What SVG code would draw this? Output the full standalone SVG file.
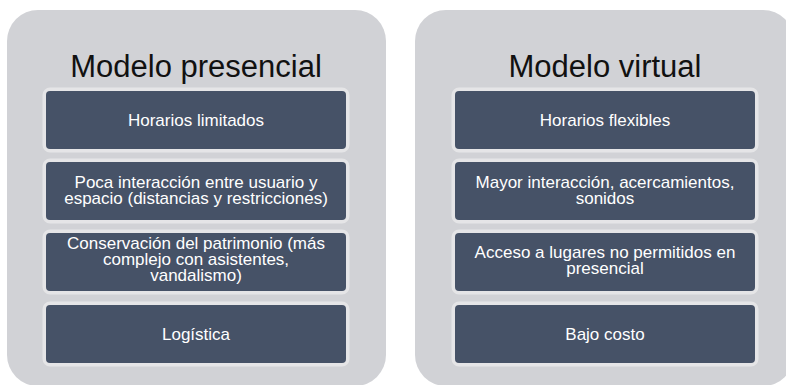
<svg xmlns="http://www.w3.org/2000/svg" width="786" height="385" viewBox="0 0 786 385">
<style>
.panel{fill:#d1d2d6}
.box{fill:#465267;stroke:#e5e5e7;stroke-width:7;paint-order:stroke}
.title{font-family:"Liberation Sans",Arial,sans-serif;font-size:31px;fill:#111;text-anchor:middle}
.lbl{font-family:"Liberation Sans",Arial,sans-serif;font-size:17px;fill:#ffffff;text-anchor:middle}
</style>
<rect width="786" height="385" fill="#ffffff"/>
<g id="panel-presencial">
<rect class="panel" x="7" y="10" width="379" height="376" rx="31"/>
<text class="title" x="196" y="76.5">Modelo presencial</text>
</g>
<g id="panel-virtual">
<rect class="panel" x="415" y="10" width="379" height="376" rx="31"/>
<text class="title" x="605" y="76.5">Modelo virtual</text>
</g>
<g id="p1">
<rect class="box" x="46" y="91" width="300" height="58" rx="4"/>
<text class="lbl" x="196" y="126">Horarios limitados</text>
</g>
<g id="p2">
<rect class="box" x="46" y="162" width="300" height="58" rx="4"/>
<text class="lbl" x="196" y="188">Poca interacción entre usuario y</text>
<text class="lbl" x="196" y="204">espacio (distancias y restricciones)</text>
</g>
<g id="p3">
<rect class="box" x="46" y="233" width="300" height="58" rx="4"/>
<text class="lbl" x="196" y="249">Conservación del patrimonio (más</text>
<text class="lbl" x="196" y="265">complejo con asistentes,</text>
<text class="lbl" x="196" y="281">vandalismo)</text>
</g>
<g id="p4">
<rect class="box" x="46" y="305" width="300" height="58" rx="4"/>
<text class="lbl" x="196" y="339.5">Logística</text>
</g>
<g id="v1">
<rect class="box" x="455" y="91" width="300" height="58" rx="4"/>
<text class="lbl" x="605" y="126">Horarios flexibles</text>
</g>
<g id="v2">
<rect class="box" x="455" y="162" width="300" height="58" rx="4"/>
<text class="lbl" x="605" y="188">Mayor interacción, acercamientos,</text>
<text class="lbl" x="605" y="204">sonidos</text>
</g>
<g id="v3">
<rect class="box" x="455" y="233" width="300" height="58" rx="4"/>
<text class="lbl" x="605" y="258">Acceso a lugares no permitidos en</text>
<text class="lbl" x="605" y="274">presencial</text>
</g>
<g id="v4">
<rect class="box" x="455" y="305" width="300" height="58" rx="4"/>
<text class="lbl" x="605" y="339.5">Bajo costo</text>
</g>
<g id="connectors"></g>
</svg>
